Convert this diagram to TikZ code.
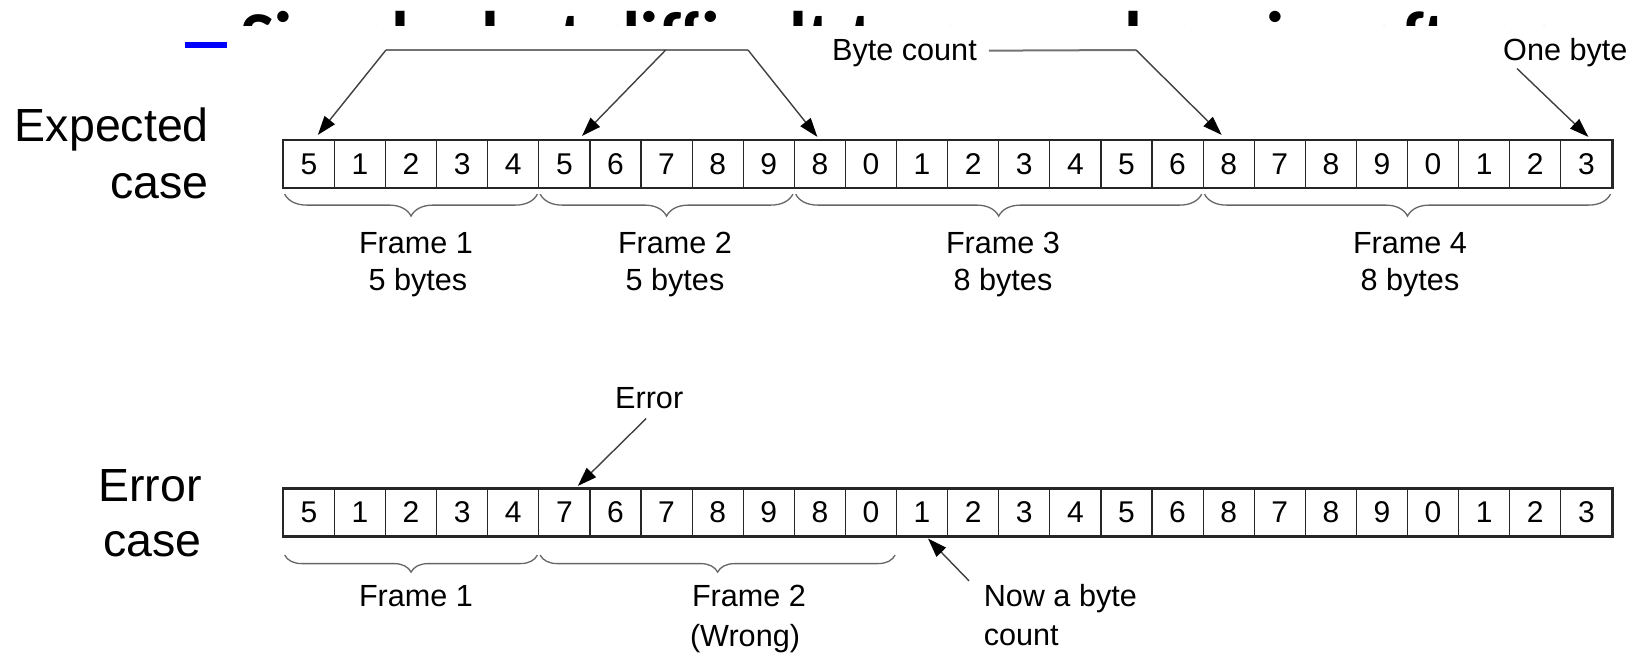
\documentclass[tikz,border=0pt]{standalone}
\usepackage{fontspec}
\setmainfont{Liberation Sans}
\newfontfamily\slidefont{Carlito}
\usetikzlibrary{arrows.meta,decorations.pathreplacing,calc}

\tikzset{
  cell/.style={draw=black!85, line width=1.2pt, minimum width=51.1pt,
    minimum height=47pt, inner sep=0pt, anchor=west,
    font=\fontsize{30}{36}\selectfont},
  rowframe/.style={draw=black!85, line width=2pt},
  lbl/.style={inner sep=0pt, font=\fontsize{30.6}{36}\selectfont},
  biglabel/.style={inner sep=0pt, anchor=base east,
    font=\fontsize{46.5}{52}\selectfont},
  hline/.style={draw=black!55, line width=2pt},
  arr/.style={draw=black!75, line width=1.4pt,
    -{Triangle[length=19pt,width=13pt,color=black]}},
  brc/.style={decorate, decoration={brace, mirror, amplitude=#1},
    draw=black!60, line width=1.3pt}
}

\begin{document}
\begin{tikzpicture}[x=1pt,y=-1pt]
\useasboundingbox (0,0) rectangle (1642,653);
\fill[white] (0,0) rectangle (1642,653);

% heading of the slide: only the top of its letters shows above the figure
\begin{scope}
  \clip (0,0) rectangle (1642,25);
  \node[anchor=base west, inner sep=0pt,
    font=\slidefont\bfseries\fontsize{73}{80}\selectfont] (head) at (240,62)
    {Simple, but difficult to resynchronize after an error};
\end{scope}
\fill[blue] (185,42) rectangle (227,47.7);

% row titles
\node[biglabel] (exp1) at (209,141.7) {Expected};
\node[biglabel] (exp2) at (209,198.3) {case};
\node[biglabel] (err1) at (202,501.7) {Error};
\node[biglabel] (err2) at (202,556.7) {case};

% byte rows
\foreach \d [count=\i] in {5,1,2,3,4,5,6,7,8,9,8,0,1,2,3,4,5,6,8,7,8,9,0,1,2,3}
  \node[cell] (e\i) at ({282.7+(\i-1)*51.1},164) {\d};
\draw[rowframe] (e1.north west) rectangle (e26.south east);

\foreach \d [count=\i] in {5,1,2,3,4,7,6,7,8,9,8,0,1,2,3,4,5,6,8,7,8,9,0,1,2,3}
  \node[cell] (r\i) at ({282.7+(\i-1)*51.1},512.5) {\d};
\draw[rowframe] (r1.north west) rectangle (r26.south east);

% byte count pointers of the expected case
\coordinate (h1) at (386,50);
\coordinate (h2) at (665.7,50);
\coordinate (h3) at (748,50);
\draw[hline] (h1) -- (h3);
\draw[arr] (h1) -- ([xshift=9pt,yshift=5pt]e1.north);
\draw[arr] (h2) -- ([xshift=17.7pt,yshift=4pt]e6.north);
\draw[arr] (h3) -- ([xshift=-2.5pt,yshift=3pt]e11.north);

\node[lbl, anchor=base west] (bc) at (832,60) {Byte count};
\coordinate (bcb) at (1136,50);
\draw[hline] ([xshift=12pt,yshift=2pt]bc.east) -- (bcb);
\draw[arr] (bcb) -- ([xshift=-7pt,yshift=5pt]e19.north);

\node[lbl, anchor=base west] (ob) at (1503,60) {One byte};
\draw[arr] ([xshift=14pt,yshift=-2pt]ob.south west) -- ([xshift=2pt,yshift=3pt]e26.north);

% frames of the expected case
\draw[brc=22pt] ($(e1.south west)+(2,6)$) -- ($(e5.south east)+(-2,6)$);
\draw[brc=22pt] ($(e6.south west)+(2,6)$) -- ($(e10.south east)+(-2,6)$);
\draw[brc=22pt] ($(e11.south west)+(2,6)$) -- ($(e18.south east)+(-2,6)$);
\draw[brc=22pt] ($(e19.south west)+(2,6)$) -- ($(e26.south east)+(-2,6)$);

\node[lbl, anchor=base] (f1a) at (416,253) {Frame 1};
\node[lbl, anchor=base] (f1b) at (418,290) {5 bytes};
\node[lbl, anchor=base] (f2a) at (675,253) {Frame 2};
\node[lbl, anchor=base] (f2b) at (675,290) {5 bytes};
\node[lbl, anchor=base] (f3a) at (1003,253) {Frame 3};
\node[lbl, anchor=base] (f3b) at (1003,290) {8 bytes};
\node[lbl, anchor=base] (f4a) at (1410,253) {Frame 4};
\node[lbl, anchor=base] (f4b) at (1410,290) {8 bytes};

% error case
\node[lbl, anchor=base west] (er) at (615,408) {Error};
\draw[arr] ([xshift=-3pt,yshift=-10pt]er.south) -- ([xshift=13.5pt,yshift=2.5pt]r6.north);

\node[lbl, anchor=base west] (nb1) at (983.6,606.7) {Now a byte};
\node[lbl, anchor=base west] (nb2) at (983.6,645) {count};
\draw[arr] ([xshift=-14.6pt,yshift=3.5pt]nb1.north west) -- ([xshift=6pt,yshift=-2pt]r13.south);

\draw[brc=17pt] ($(r1.south west)+(2,18.5)$) -- ($(r5.south east)+(-2,18.5)$);
\draw[brc=17pt] ($(r6.south west)+(2,18.5)$) -- ($(r12.south east)+(-2,18.5)$);

\node[lbl, anchor=base] (g1) at (416,606.7) {Frame 1};
\node[lbl, anchor=base] (g2a) at (749,606.7) {Frame 2};
\node[lbl, anchor=base] (g2b) at (745,646.7) {(Wrong)};
\end{tikzpicture}
\end{document}
